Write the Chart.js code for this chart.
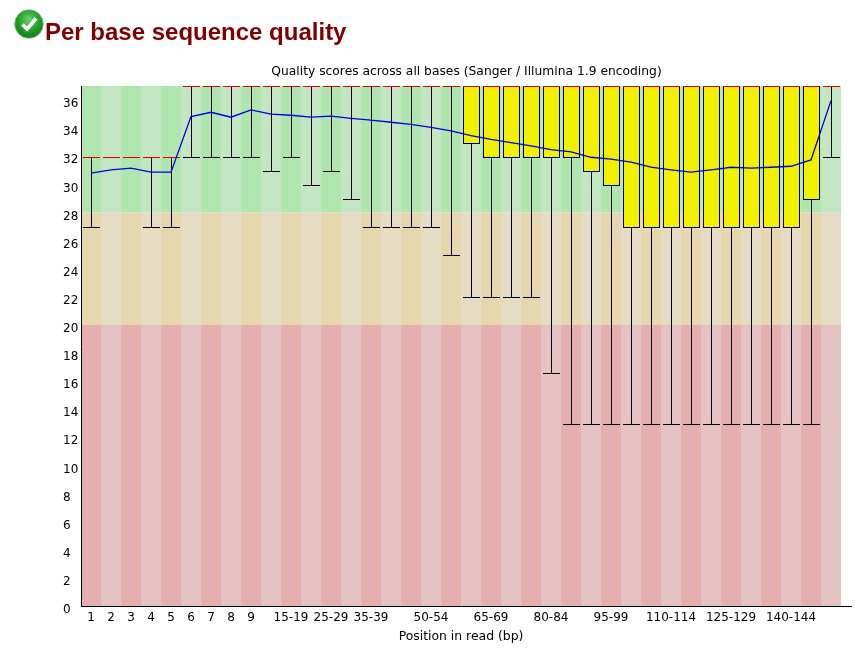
<!DOCTYPE html>
<html>
<head>
<meta charset="utf-8">
<title>Per base sequence quality</title>
<script src="https://cdn.jsdelivr.net/npm/chart.js@4/dist/chart.umd.min.js"></script>
<style>
  html, body { margin: 0; padding: 0; background: #fff; overflow: hidden; }
  #wrap { position: relative; width: 863px; height: 659px; }
  #chart { position: absolute; left: 0; top: 0; display: block; }
  #icon { position: absolute; left: 14px; top: 9px; }
  h2 {
    position: absolute; left: 45px; top: 18px; margin: 0;
    font: bold 24px/28px "Liberation Sans", sans-serif; color: #800000; white-space: nowrap;
  }
</style>
</head>
<body>
<div id="wrap">
  <canvas id="chart" width="863" height="659"></canvas>
  <svg id="icon" width="30" height="30" viewBox="0 0 30 30">
    <defs>
      <radialGradient id="ball" cx="50%" cy="35%" r="70%">
        <stop offset="0" stop-color="#6fd06a"/>
        <stop offset="0.55" stop-color="#1f9d25"/>
        <stop offset="1" stop-color="#0c7a14"/>
      </radialGradient>
    </defs>
    <circle cx="15" cy="15" r="14.3" fill="url(#ball)" stroke="#8fb58f" stroke-width="0.8"/>
    <path d="M8.5 15.5 L13 20 L22 9.5" fill="none" stroke="#fff" stroke-width="3.6"/>
  </svg>
  <h2>Per base sequence quality</h2>
</div>
<script>
const categories = [
  "1", "2", "3", "4", "5", "6", "7", "8", "9", "10-14", "15-19", "20-24", "25-29",
  "30-34", "35-39", "40-44", "45-49", "50-54", "55-59", "60-64", "65-69", "70-74",
  "75-79", "80-84", "85-89", "90-94", "95-99", "100-104", "105-109", "110-114",
  "115-119", "120-124", "125-129", "130-134", "135-139", "140-144", "145-149", "150"
];
const shownLabels = [
  "1", "2", "3", "4", "5", "6", "7", "8", "9", "", "15-19", "", "25-29",
  "", "35-39", "", "", "50-54", "", "", "65-69", "",
  "", "80-84", "", "", "95-99", "", "", "110-114",
  "", "", "125-129", "", "", "140-144", "", ""
];
const yTickValues = [0, 2, 4, 6, 8, 10, 12, 14, 16, 18, 20, 22, 24, 26, 28, 30, 32, 34, 36];
const means = [
  30.8, 31.03, 31.15, 30.87, 30.87, 34.83, 35.13, 34.78, 35.3, 35.0, 34.92, 34.78, 34.85,
  34.7, 34.57, 34.42, 34.27, 34.05, 33.8, 33.47, 33.2, 32.97,
  32.74, 32.48, 32.31, 31.93, 31.8, 31.58, 31.22, 31.03,
  30.87, 31.03, 31.22, 31.15, 31.22, 31.29, 31.74, 35.96
];
const medians = [
  32, 32, 32, 32, 32, 37, 37, 37, 37, 37, 37, 37, 37,
  37, 37, 37, 37, 37, 37, 37, 37, 37,
  37, 37, 37, 37, 37, 37, 37, 37,
  37, 37, 37, 37, 37, 37, 37, 37
];
const lowerQuartiles = [
  32, 32, 32, 32, 32, 37, 37, 37, 37, 37, 37, 37, 37,
  37, 37, 37, 37, 37, 37, 33, 32, 32,
  32, 32, 32, 31, 30, 27, 27, 27,
  27, 27, 27, 27, 27, 27, 29, 37
];
const upperQuartiles = [
  32, 32, 32, 32, 32, 37, 37, 37, 37, 37, 37, 37, 37,
  37, 37, 37, 37, 37, 37, 37, 37, 37,
  37, 37, 37, 37, 37, 37, 37, 37,
  37, 37, 37, 37, 37, 37, 37, 37
];
const lowerWhiskers = [
  27, 32, 32, 27, 27, 32, 32, 32, 32, 31, 32, 30, 31,
  29, 27, 27, 27, 27, 25, 22, 22, 22,
  22, 16.6, 13, 13, 13, 13, 13, 13,
  13, 13, 13, 13, 13, 13, 13, 32
];
const zones = [
  { from: 0, to: 20, dark: "rgb(230,175,175)", light: "rgb(230,195,195)" },
  { from: 20, to: 28, dark: "rgb(230,215,175)", light: "rgb(230,220,195)" },
  { from: 28, to: 37, dark: "rgb(175,230,175)", light: "rgb(195,230,195)" }
];

const CHART_FONT = "'DejaVu Sans', sans-serif";
const AXIS_OVERHANG = 11;

function crisp(v) {
  return Math.ceil(v) + 0.5;
}

function hLine(ctx, x1, x2, y, colour) {
  ctx.strokeStyle = colour;
  ctx.beginPath();
  ctx.moveTo(x1, y);
  ctx.lineTo(x2, y);
  ctx.stroke();
}

// whiskers, box outlines and median marks, snapped to whole pixels as in the original
function drawBoxMarks(chart) {
  const { ctx, scales } = chart;
  const x = scales.x;
  const y = scales.y;

  ctx.save();
  ctx.lineWidth = 1;
  categories.forEach((cat, i) => {
    const cx = x.getPixelForValue(i);
    const left = cx - 8;
    const right = cx + 9;
    const mid = cx + 0.5;
    const low = crisp(y.getPixelForValue(lowerWhiskers[i]));
    const q1 = crisp(y.getPixelForValue(lowerQuartiles[i]));
    const q3 = crisp(y.getPixelForValue(upperQuartiles[i]));

    ctx.strokeStyle = "#000";
    ctx.beginPath();
    ctx.moveTo(mid, low);
    ctx.lineTo(mid, q1);
    ctx.stroke();
    hLine(ctx, left, right, low, "#000");

    if (upperQuartiles[i] > lowerQuartiles[i]) {
      ctx.strokeStyle = "#000";
      ctx.strokeRect(left + 0.5, q3, 16, q1 - q3);
    }
    hLine(ctx, left, right, crisp(y.getPixelForValue(medians[i])), "#e00000");
  });
  ctx.restore();
}

const boxPlugin = {
  id: "boxMarks",
  afterLayout(chart) {
    // the title is centred over the axis line, which runs past the last band
    chart.titleBlock.left = chart.chartArea.left;
    chart.titleBlock.right = chart.chartArea.right + AXIS_OVERHANG;
  },
  beforeDatasetDraw(chart, args) {
    if (args.index === 0) drawBoxMarks(chart);
  },
  afterDraw(chart) {
    const { ctx, chartArea } = chart;
    ctx.save();
    ctx.lineWidth = 1;
    hLine(ctx, chartArea.right, chartArea.right + AXIS_OVERHANG, crisp(chartArea.bottom), "#000");
    ctx.restore();
  }
};

const datasets = [
  {
    type: "line",
    label: "Mean",
    data: means,
    borderColor: "#0000e0",
    borderWidth: 1.3,
    pointRadius: 0,
    tension: 0,
    order: 0
  },
  {
    type: "bar",
    label: "Quartiles",
    data: upperQuartiles.map((q, i) => (q > lowerQuartiles[i] ? [lowerQuartiles[i], q] : null)),
    backgroundColor: "#f0f000",
    barThickness: 16,
    grouped: false,
    inflateAmount: 0,
    order: 1
  }
];

zones.forEach((zone) => {
  datasets.push({
    type: "bar",
    label: `Zone ${zone.from}-${zone.to}`,
    data: categories.map(() => [zone.from, zone.to]),
    backgroundColor: categories.map((c, i) => (i % 2 === 0 ? zone.dark : zone.light)),
    barPercentage: 1,
    categoryPercentage: 1,
    grouped: false,
    inflateAmount: 0,
    order: 2
  });
});

new Chart(document.getElementById("chart"), {
  data: { labels: categories, datasets: datasets },
  plugins: [boxPlugin],
  options: {
    responsive: false,
    animation: false,
    devicePixelRatio: 1,
    layout: { padding: { left: 63, right: 22, top: 0, bottom: 0 } },
    plugins: {
      legend: { display: false },
      tooltip: { enabled: false },
      title: {
        display: true,
        text: "Quality scores across all bases (Sanger / Illumina 1.9 encoding)",
        color: "#000",
        font: { family: CHART_FONT, size: 12.3, weight: "normal", lineHeight: "14px" },
        padding: { top: 65, bottom: 7 }
      }
    },
    scales: {
      x: {
        type: "category",
        grid: { display: false, drawTicks: false },
        border: { color: "#000", z: 1 },
        afterFit: (s) => { s.height = 53; },
        ticks: {
          autoSkip: false,
          maxRotation: 0,
          padding: 5,
          color: "#000",
          font: { family: CHART_FONT, size: 12 },
          callback: (value, i) => shownLabels[i]
        },
        title: {
          display: true,
          text: "Position in read (bp)",
          color: "#000",
          font: { family: CHART_FONT, size: 12.4 },
          padding: { top: 0, bottom: 15 }
        }
      },
      y: {
        min: 0,
        max: 37,
        grid: { display: false, drawTicks: false },
        border: { color: "#000", z: 1 },
        afterFit: (s) => { s.width = 18; },
        afterBuildTicks: (s) => { s.ticks = yTickValues.map((v) => ({ value: v })); },
        ticks: {
          crossAlign: "far",
          labelOffset: 4,
          color: "#000",
          font: { family: CHART_FONT, size: 12 }
        }
      }
    }
  }
});
</script>
</body>
</html>
